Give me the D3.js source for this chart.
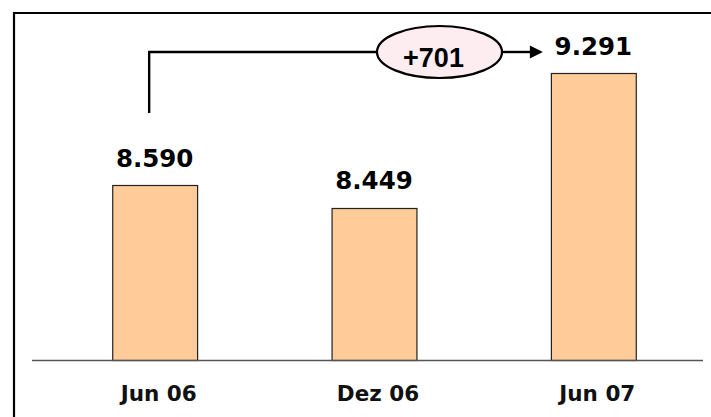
<!DOCTYPE html>
<html><head><meta charset="utf-8">
<script src="https://cdn.jsdelivr.net/npm/d3@7"></script>
<style>html,body{margin:0;padding:0;background:#fff;}svg{display:block;}</style>
</head><body>
<svg id="c" width="711" height="417"></svg>
<script>
const categories = ["Jun 06", "Dez 06", "Jun 07"];
const values = [8590, 8449, 9291];
const valueLabels = ["8.590", "8.449", "9.291"];
const deltaLabel = "+701";

const svg = d3.select("#c");
const x = d3.scaleBand().domain(categories).range([45, 703]).paddingInner(0.613).paddingOuter(0.3065);
const y = d3.scaleLinear().domain([7495, 9291]).range([360, 73]);
const bw = x.bandwidth();

// frame
svg.append("path").attr("d", "M14,417 V13 H711").attr("fill", "none").attr("stroke", "#000").attr("stroke-width", 2.2);

// bars
svg.selectAll("rect.bar").data(values).join("rect").attr("class", "bar")
  .attr("x", (d, i) => x(categories[i]) + 0.5)
  .attr("y", d => Math.round(y(d)) + 0.5)
  .attr("width", bw)
  .attr("height", d => 360 - Math.round(y(d)))
  .attr("fill", "#ffcc99").attr("stroke", "#222").attr("stroke-width", 1.2);

// baseline
svg.append("line").attr("x1", 32).attr("x2", 703).attr("y1", 360.5).attr("y2", 360.5)
  .attr("stroke", "#555").attr("stroke-width", 1.5);

// value labels
svg.selectAll("text.val").data(values).join("text").attr("class", "val")
  .attr("x", (d, i) => x(categories[i]) + bw / 2)
  .attr("y", d => y(d) - 18.5)
  .attr("text-anchor", "middle")
  .attr("font-family", "DejaVu Sans").attr("font-weight", "bold").attr("font-size", 24.5)
  .attr("fill", "#000")
  .text((d, i) => valueLabels[i]);

// category labels
svg.selectAll("text.cat").data(categories).join("text").attr("class", "cat")
  .attr("x", d => x(d) + bw / 2 + 4)
  .attr("y", 401)
  .attr("text-anchor", "middle")
  .attr("font-family", "DejaVu Sans").attr("font-weight", "bold").attr("font-size", 21.5)
  .attr("fill", "#111")
  .text(d => d);

// connector
const x0 = x(categories[0]) + bw / 2 - 5.5;
const yTop = 52;
const ex = 439.5, erx = 62.5, ery = 26;
const arrowEnd = x(categories[2]) - 8;
svg.append("path").attr("d", `M${x0},113 V${yTop} H${ex - erx}`)
  .attr("fill", "none").attr("stroke", "#000").attr("stroke-width", 2.4);
svg.append("line").attr("x1", ex + erx).attr("x2", arrowEnd - 10).attr("y1", yTop).attr("y2", yTop)
  .attr("stroke", "#000").attr("stroke-width", 2.4);
svg.append("path").attr("d", `M${arrowEnd},${yTop} L${arrowEnd - 13},${yTop - 6.5} L${arrowEnd - 13},${yTop + 6.5} Z`).attr("fill", "#000");
svg.append("ellipse").attr("cx", ex).attr("cy", yTop).attr("rx", erx).attr("ry", ery)
  .attr("fill", "#fdedf0").attr("stroke", "#000").attr("stroke-width", 2.2);
svg.append("text").attr("x", ex - 6).attr("y", 67).attr("text-anchor", "middle")
  .attr("font-family", "Liberation Sans").attr("font-weight", "bold").attr("font-size", 27)
  .attr("fill", "#000").text(deltaLabel);
</script>
</body></html>
